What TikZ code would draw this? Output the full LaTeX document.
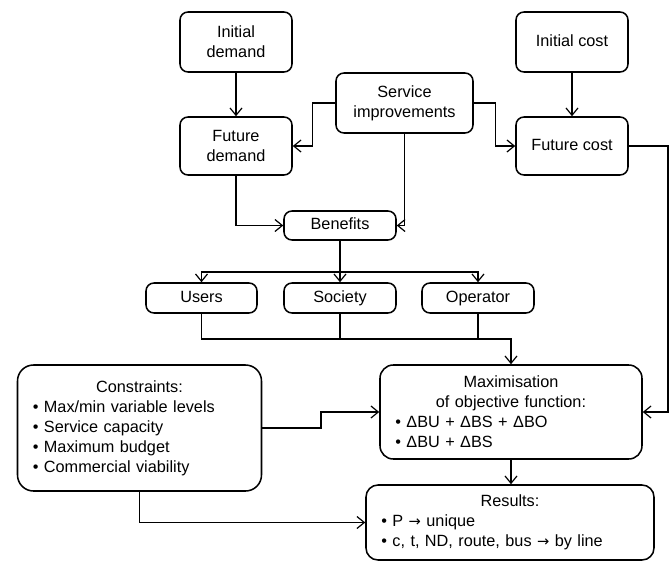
\documentclass[tikz,border=0pt]{standalone}
\usepackage{fontspec}
\setmainfont{Liberation Sans}
\newfontfamily\arrowfont{DejaVu Sans}
\usetikzlibrary{arrows.meta}
\newcommand{\ctrline}[1]{\hbox to\hsize{\hfil #1\hfil}}
\newcommand{\rarr}{{\arrowfont\fontsize{11}{15}\selectfont →}}
\begin{document}
\begin{tikzpicture}[x=0.75pt,y=-0.75pt,
  box/.style={draw, line width=1.15pt, rounded corners=6pt, align=center,
    font=\fontsize{12.2}{15}\selectfont, inner sep=0pt},
  oneline/.style={text height=8.8pt, text depth=2.6pt},
  bigbox/.style={draw, line width=1.15pt, rounded corners=10pt, align=left,
    font=\fontsize{12.2}{15}\selectfont, inner ysep=0pt, inner xsep=11.5pt},
  conn/.style={line width=0.9pt, -{Straight Barb[length=5.5pt,width=9pt,line width=0.9pt]}},
  plain/.style={line width=0.9pt}]
\useasboundingbox (0,0) rectangle (672,562);
% top row
\node[box, minimum width=84pt, minimum height=45pt] (id) at (236,42) {Initial\\demand};
\node[box, minimum width=84pt, minimum height=43.5pt] (fd) at (236,146) {Future\\demand};
\node[box, minimum width=102.75pt, minimum height=45pt] (si) at (404.5,103) {Service\\improvements};
\node[box, oneline, minimum width=84pt, minimum height=45pt] (ic) at (572,42) {Initial cost};
\node[box, oneline, minimum width=84pt, minimum height=43.5pt] (fc) at (572,146) {Future cost};
\node[box, oneline, minimum width=84pt, minimum height=21.75pt] (ben) at (340,225.5) {Benefits};
% beneficiaries
\node[box, oneline, minimum width=83.25pt, minimum height=22.5pt] (us) at (201.5,298) {Users};
\node[box, oneline, minimum width=84pt, minimum height=22.5pt] (so) at (340,298) {Society};
\node[box, oneline, minimum width=84pt, minimum height=22.5pt] (op) at (478,298) {Operator};
% lower boxes
\node[bigbox, rounded corners=12pt, text width=160pt, minimum height=94.5pt] (co) at (139.5,428)
  {\ctrline{Constraints:}
   • Max/min variable levels\\
   • Service capacity\\
   • Maximum budget\\
   • Commercial viability};
\node[bigbox, text width=173.5pt, minimum height=70.5pt] (ma) at (511,412)
  {\ctrline{Maximisation}
   \ctrline{of objective function:}
   • ΔBU + ΔBS + ΔBO\\
   • ΔBU + ΔBS};
\node[bigbox, rounded corners=9pt, text width=193pt, minimum height=56.25pt] (re) at (510,522.5)
  {\ctrline{Results:}
   • P \rarr{} unique\\
   • c, t, ND, route, bus \rarr{} by line};
% helper coordinates
\coordinate (b1) at (340,272);
\coordinate (b2) at (0,339);
\coordinate (rr) at (668,0);
\coordinate (cj) at (321,0);
% connectors
\draw[conn] (id) -- (fd);
\draw[conn] (ic) -- (fc);
\draw[conn] (si.west) -- ++(-23,0) |- (fd.east);
\draw[conn] (si.east) -- ++(22,0) |- (fc.west);
\draw[conn] (si.south) |- (ben.east);
\draw[conn] (fd.south) |- (ben.west);
\draw[conn] (ben.south) -- (so.north);
\draw[conn] (ben.south |- b1) -| (us.north);
\draw[conn] (ben.south |- b1) -| (op.north);
\draw[conn] (us.south) -- (us.south |- b2) -| (ma.north);
\draw[plain] (so.south) -- (so.south |- b2);
\draw[plain] (op.south) -- (op.south |- b2);
\draw[conn] (fc.east) -| (rr |- ma.east) -- (ma.east);
\draw[conn] (co.east) -| (cj |- ma.west) -- (ma.west);
\draw[conn] (co.south) |- (re.west);
\draw[conn] (ma.south) -- (ma.south |- re.north);
\end{tikzpicture}
\end{document}
